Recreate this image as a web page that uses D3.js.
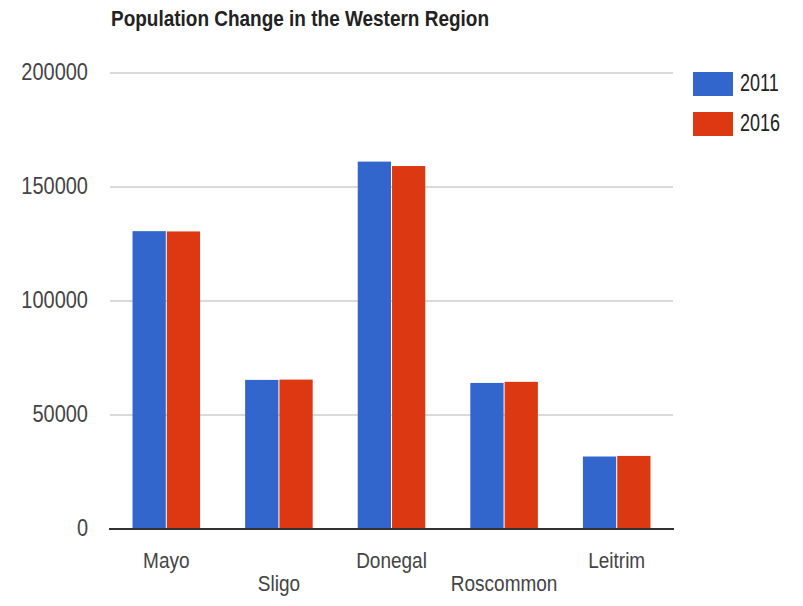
<!DOCTYPE html>
<html><head><meta charset="utf-8">
<script src="https://cdn.jsdelivr.net/npm/d3@7"></script>
<style>body{margin:0;background:#fff}svg{display:block}text{font-family:"Liberation Sans",Arial,sans-serif}</style>
</head><body>
<svg id="c" width="803" height="606"></svg>
<script>
const title = "Population Change in the Western Region";
const categories = ["Mayo","Sligo","Donegal","Roscommon","Leitrim"];
const seriesNames = ["2011","2016"];
const values2011 = [130638, 65393, 161137, 64065, 31798];
const values2016 = [130507, 65535, 159192, 64544, 32044];
const yTicks = [0, 50000, 100000, 150000, 200000];
const colors = ["#3366cc","#dc3912"];

(function(){
const svg = d3.select("#c");
const pL = 110, pR = 673, pT = 73, pB = 529;
const x = d3.scaleBand().domain(categories).range([pL, pR]).paddingInner(0.4).paddingOuter(0.2);
const xs = d3.scaleBand().domain(seriesNames).range([0, x.bandwidth()]).paddingInner(0.03);
const y = d3.scaleLinear().domain([0, 200000]).range([pB, pT]);
const SY = 1.2;

function stext(g, tx, ty, str, opts, sy) {
  const t = g.append("text").attr("transform", `translate(${tx},${ty}) scale(1,${sy || SY})`).text(str);
  for (const k in opts) t.attr(k, opts[k]);
  return t;
}

svg.append("g").selectAll("line").data(yTicks.filter(d => d > 0)).join("line")
  .attr("x1", pL).attr("x2", pR).attr("y1", d => y(d)).attr("y2", d => y(d))
  .attr("stroke", "#cccccc").attr("stroke-width", 1.5);

const yl = svg.append("g");
yTicks.forEach(d => stext(yl, 88, y(d) + 7, String(d), {"text-anchor":"end","font-size":20,"fill":"#444"}));

const data = categories.map((c, i) => ({c, vals: [values2011[i], values2016[i]]}));
const grp = svg.append("g").selectAll("g").data(data).join("g").attr("transform", d => `translate(${x(d.c)},0)`);
grp.selectAll("rect").data(d => d.vals.map((v, j) => ({s: seriesNames[j], v, j}))).join("rect")
  .attr("x", d => xs(d.s)).attr("width", xs.bandwidth())
  .attr("y", d => y(d.v)).attr("height", d => y(0) - y(d.v))
  .attr("fill", d => colors[d.j]);

svg.append("line").attr("x1", pL - 1).attr("x2", pR + 1).attr("y1", pB).attr("y2", pB)
  .attr("stroke", "#333").attr("stroke-width", 2);

const xl = svg.append("g");
categories.forEach((c, i) => stext(xl, x(c) + x.bandwidth()/2, i % 2 === 0 ? 568 : 591, c, {"text-anchor":"middle","font-size":19,"fill":"#444"}));

stext(svg, 111, 26, title, {"font-size":19,"font-weight":"bold","fill":"#222","textLength":378,"lengthAdjust":"spacingAndGlyphs"});

const lg = svg.append("g");
seriesNames.forEach((s, i) => {
  lg.append("rect").attr("x", 693).attr("y", 72 + i*40).attr("width", 40).attr("height", 24).attr("fill", colors[i]);
  stext(lg, 740, 91 + i*40, s, {"font-size":18,"fill":"#222"}, 1.3);
});
})();
</script>
</body></html>
